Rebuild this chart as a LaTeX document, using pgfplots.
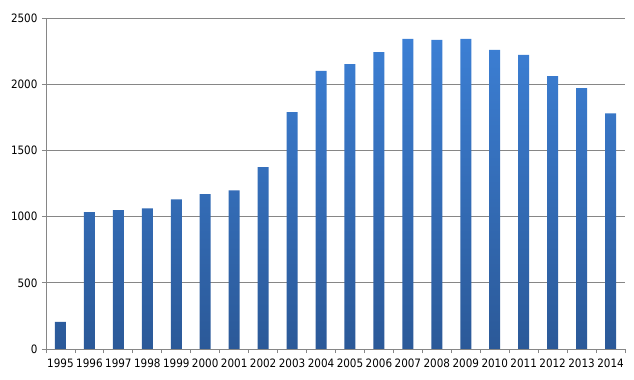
\documentclass[border=0pt]{standalone}
\usepackage{pgfplots}
\pgfplotsset{compat=1.18}
\usepackage{fontspec}
\setmainfont{DejaVu Sans Condensed}
\definecolor{bartop}{RGB}{60,127,212}
\definecolor{barbot}{RGB}{43,89,152}
\definecolor{gridc}{RGB}{134,134,134}
\begin{document}
\begin{tikzpicture}
\begin{axis}[
  name=ax,
  scale only axis,
  width=579bp, height=331bp,
  xmin=-0.5, xmax=19.5,
  ymin=0, ymax=2500,
  ytick={0,500,...,2500},
  ymajorgrids,
  grid style={gridc, line width=0.9pt},
  axis line style={gridc, line width=0.9pt},
  axis x line*=bottom,
  axis y line*=left,
  xtick={0,...,19},
  xticklabels={1995,1996,1997,1998,1999,2000,2001,2002,2003,2004,2005,2006,2007,2008,2009,2010,2011,2012,2013,2014},
  major x tick style={draw=none},
  minor xtick={-0.5,0.5,...,19.5},
  minor tick length=4bp,
  minor x tick style={gridc, line width=0.9pt},
  major y tick style={gridc, line width=0.9pt},
  major tick length=4bp,
  tick align=outside,
  ticklabel style={font=\fontsize{11.6}{13}\selectfont, text=black},
  yticklabel style={xshift=-1bp},
  xticklabel style={yshift=-2bp},
  /pgf/number format/assume math mode=true,
  /pgf/number format/1000 sep={},
  ybar,
  bar width=11bp,
]
\addplot[draw=none, top color=bartop, bottom color=barbot, bar shift=0pt] coordinates {
(0,205) (1,1033) (2,1048) (3,1063) (4,1131) (5,1169) (6,1199) (7,1374)
(8,1789) (9,2100) (10,2152) (11,2243) (12,2342) (13,2335) (14,2342)
(15,2259) (16,2221) (17,2061) (18,1970) (19,1780)
};
\end{axis}
\pgfresetboundingbox
\useasboundingbox (ax.south west) ++(-46bp,-31bp) rectangle ++(634bp,380bp);
\end{tikzpicture}
\end{document}
